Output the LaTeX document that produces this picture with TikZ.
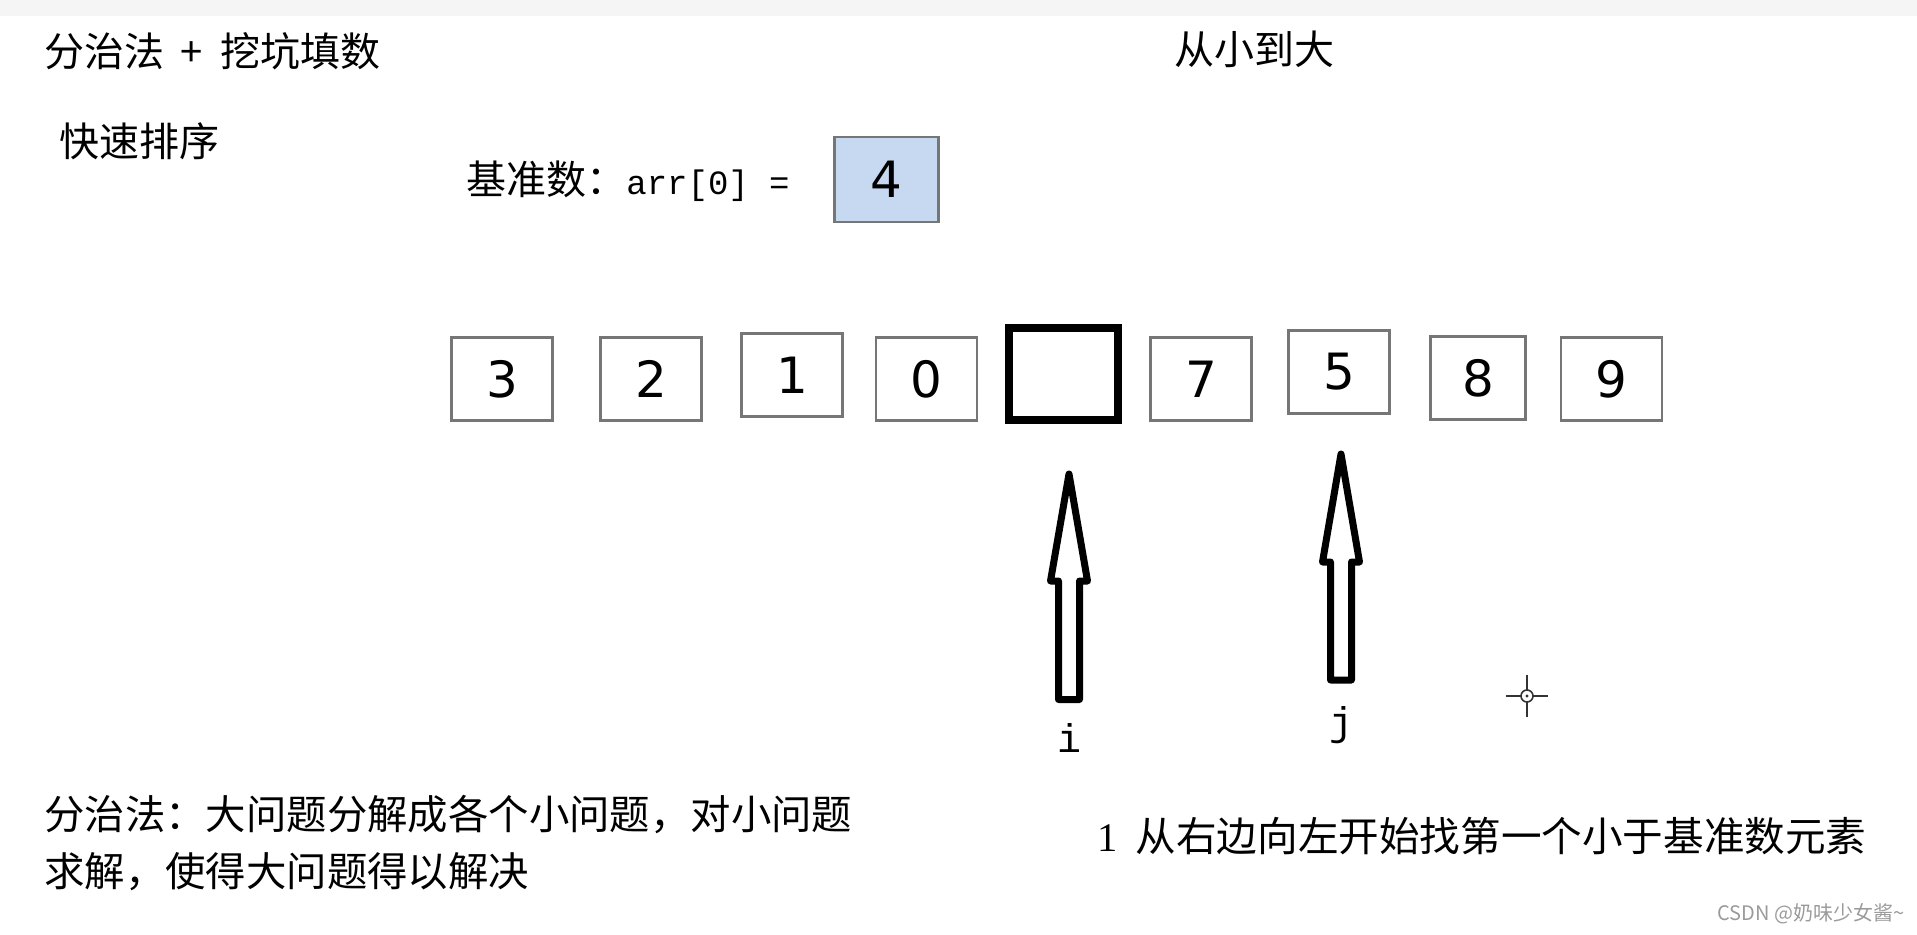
\documentclass[tikz,border=0pt]{standalone}
\usepackage{fontspec}
\setmainfont{DejaVu Sans}
\newfontfamily\cjk{Noto Sans CJK SC}
\newfontfamily\monof{Liberation Mono}
\newfontfamily\seriff{Liberation Serif}
\newfontfamily\numf{DejaVu Sans}
\definecolor{boxgray}{HTML}{767676}
\definecolor{pivotfill}{HTML}{C6D9F1}
\definecolor{wmgray}{HTML}{9A9A9A}
\definecolor{bandgray}{HTML}{F5F5F5}
\begin{document}
\begin{tikzpicture}[x=0.5pt,y=-0.5pt,
  cell/.style={draw=boxgray, line width=1.4pt, minimum width=50.5pt, minimum height=41.5pt,
               inner sep=0pt, font=\numf\fontsize{25}{25}\selectfont},
  hole/.style={draw=black, line width=4pt, minimum width=54.5pt, minimum height=46pt, inner sep=0pt},
  txt/.style={inner sep=0pt, anchor=west, font=\cjk\fontsize{20}{20}\selectfont},
  ptr/.style={draw=black, line width=3.5pt, line join=round, fill=white},
  lbl/.style={inner sep=0pt, font=\monof\fontsize{20}{20}\selectfont}
]
\useasboundingbox (0,0) rectangle (1917,935);
\fill[bandgray] (0,0) rectangle (1917,16);

% texts
\node[txt] (title) at (44,51) {分治法\hspace{8pt}+\hspace{9pt}挖坑填数};
\node[txt] (qs) at (59,141) {快速排序};
\node[txt] (order) at (1174,49) {从小到大};
\node[txt] (base) at (466,181) {基准数：{\monof\fontsize{17}{17}\selectfont arr[0] =}};

% pivot
\node[cell, fill=pivotfill, minimum width=52pt, minimum height=42.5pt] (pivot) at (886.5,179.5) {4};

% array
\node[cell] (c0) at (502,379) {3};
\node[cell] (c1) at (651,379) {2};
\node[cell] (c2) at (792,375) {1};
\node[cell] (c3) at (926.5,379) {0};
\node[hole] (c4) at (1063.5,374) {};
\node[cell] (c5) at (1201,379) {7};
\node[cell] (c6) at (1339,372) {5};
\node[cell, minimum width=47.5pt] (c7) at (1478,378) {8};
\node[cell] (c8) at (1611.5,379) {9};

% pointer i
\draw[ptr] (1058.5,699.5) -- (1058.5,581) -- (1050.5,581) -- (1069,474)
  -- (1087.5,581) -- (1079.5,581) -- (1079.5,699.5) -- cycle;
\node[lbl] (li) at (1069,738) {i};

% pointer j
\draw[ptr] (1330.5,680) -- (1330.5,562) -- (1322.5,562) -- (1341,454)
  -- (1359.5,562) -- (1351.5,562) -- (1351.5,680) -- cycle;
\node[lbl] (lj) at (1341,725) {j};

% cursor mark
\coordinate (cur) at (1527,696);
\draw[line width=0.8pt, black!80] (1506,696) -- (1521,696) (1533,696) -- (1548,696)
  (1527,675) -- (1527,690) (1527,702) -- (1527,717);
\draw[line width=0.8pt, black!80] (cur) circle (6);
\fill[black!80] (cur) circle (1.6);

% bottom texts
\node[txt, align=left, font=\cjk\fontsize{20.2}{28.5}\selectfont, anchor=north west] (dc) at (44,795)
  {分治法：大问题分解成各个小问题，对小问题\\求解，使得大问题得以解决};
\node[txt, font=\cjk\fontsize{20.3}{20.3}\selectfont] (step1) at (1097,836) {{\seriff 1}\hspace{9pt}从右边向左开始找第一个小于基准数元素};

\node[inner sep=0pt, anchor=east, text=wmgray, font=\cjk\fontsize{10}{10}\selectfont] (wm) at (1905,914) {CSDN @奶味少女酱\textasciitilde};
\end{tikzpicture}
\end{document}
